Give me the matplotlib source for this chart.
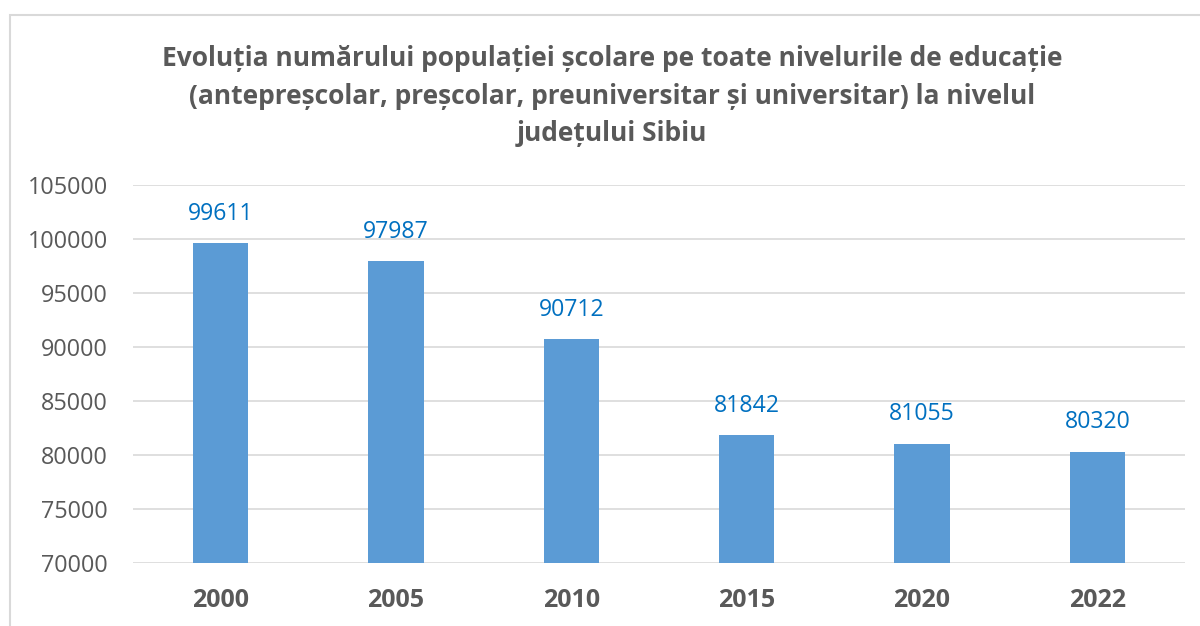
import matplotlib
matplotlib.use("Agg")
import matplotlib.pyplot as plt
from matplotlib.patches import Rectangle

ani = ['2000', '2005', '2010', '2015', '2020', '2022']
elevi = [99611, 97987, 90712, 81842, 81055, 80320]

plt.rcParams['font.family'] = ['Open Sans', 'DejaVu Sans']

fig = plt.figure(figsize=(12, 6.26), dpi=100)
W, H = 1200, 626

# chenarul graficului (taiat la dreapta si jos)
fig.patches.append(Rectangle((10 / W, -0.1), 1.2, 1 - 15 / H + 0.1,
                             transform=fig.transFigure, fill=False,
                             edgecolor='#D9D9D9', linewidth=1.5))

ax = fig.add_axes([133 / W, 1 - 563 / H, (1185 - 133) / W, (563 - 185) / H])

x = range(len(ani))
ax.bar(x, elevi, width=0.315, color='#5B9BD5', zorder=3)
for i, v in zip(x, elevi):
    ax.text(i, v + 2700, str(v), ha='center', va='center',
            fontsize=16.6, color='#0070C0')

ax.set_ylim(70000, 105000)
ax.set_yticks(range(70000, 105001, 5000))
ax.set_xlim(-0.5, len(ani) - 0.5)
ax.set_xticks(list(x))
ax.set_xticklabels(ani, fontsize=18, fontweight='bold', color='#595959')
ax.tick_params(axis='y', labelsize=16.8, labelcolor='#595959', length=0, pad=18)
ax.tick_params(axis='x', length=0, pad=18)
ax.grid(axis='y', color='#D9D9D9', linewidth=1.2, zorder=0)
for s in ax.spines.values():
    s.set_visible(False)

fig.text(612 / W, 1 - 96 / H,
         'Evoluția numărului populației școlare pe toate nivelurile de educație\n'
         '(antepreșcolar, preșcolar, preuniversitar și universitar) la nivelul\n'
         'județului Sibiu',
         ha='center', va='center', fontsize=19, fontweight='bold',
         color='#595959', linespacing=1.5)

fig.savefig('out.png', dpi=100)
